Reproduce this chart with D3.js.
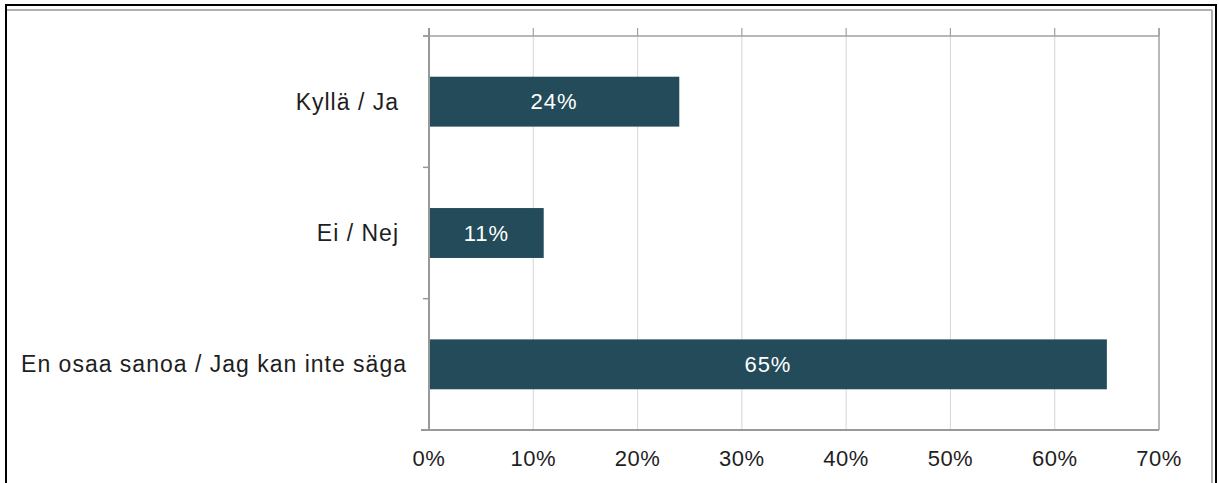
<!DOCTYPE html>
<html><head><meta charset="utf-8">
<script src="https://cdn.jsdelivr.net/npm/d3@7"></script>
<style>body{margin:0;background:#fff}svg{display:block}</style>
</head><body>
<script>
const categories = ["Kyllä / Ja", "Ei / Nej", "En osaa sanoa / Jag kan inte säga"];
const values = [0.24, 0.11, 0.65];
const tickValues = [0, 0.1, 0.2, 0.3, 0.4, 0.5, 0.6, 0.7];
const tickLabels = ["0%", "10%", "20%", "30%", "40%", "50%", "60%", "70%"];
const barLabels = ["24%", "11%", "65%"];

(function () {
const W = 1219, H = 483;
const svg = d3.select("body").append("svg").attr("width", W).attr("height", H);
const font = "Liberation Sans, Arial, sans-serif";

// frame
svg.append("rect").attr("x", 6).attr("y", 5).attr("width", 1210).attr("height", 500)
  .attr("fill", "none").attr("stroke", "#000").attr("stroke-width", 2);
svg.append("line").attr("x1", 7).attr("x2", 1212).attr("y1", 10).attr("y2", 10)
  .attr("stroke", "#b0b0b0").attr("stroke-width", 2);
svg.append("line").attr("x1", 1212).attr("x2", 1212).attr("y1", 10).attr("y2", 490)
  .attr("stroke", "#b0b0b0").attr("stroke-width", 2);

const pLeft = 429, pRight = 1159, pTop = 36, pBottom = 430;
const x = d3.scaleLinear().domain([0, 0.7]).range([pLeft, pRight]);
const y = d3.scaleBand().domain(categories).range([pTop, pBottom]).paddingInner(0.62).paddingOuter(0.31);

// gridlines
svg.append("g").selectAll("line").data(tickValues.slice(1, -1)).join("line")
  .attr("x1", d => x(d)).attr("x2", d => x(d)).attr("y1", pTop).attr("y2", pBottom)
  .attr("stroke", "#dcdcdc").attr("stroke-width", 1.2);

// top ticks
svg.append("g").selectAll("line").data(tickValues).join("line")
  .attr("x1", d => x(d)).attr("x2", d => x(d)).attr("y1", pTop - 8).attr("y2", pTop)
  .attr("stroke", "#a0a0a0").attr("stroke-width", 1.2);

// bars
svg.append("g").selectAll("rect").data(values).join("rect")
  .attr("x", x(0)).attr("y", (d, i) => y(categories[i]))
  .attr("width", d => x(d) - x(0)).attr("height", y.bandwidth())
  .attr("fill", "#234b59");

svg.append("g").selectAll("text").data(values).join("text")
  .attr("x", d => (x(0) + x(d)) / 2).attr("y", (d, i) => y(categories[i]) + y.bandwidth() / 2)
  .attr("dy", "0.35em").attr("text-anchor", "middle")
  .attr("fill", "#fff").attr("font-family", font).attr("font-size", 22).attr("letter-spacing", 1)
  .text((d, i) => barLabels[i]);

// plot box lines
const axisColor = "#999";
svg.append("line").attr("x1", pLeft - 6).attr("x2", pRight).attr("y1", pTop).attr("y2", pTop).attr("stroke", "#a0a0a0").attr("stroke-width", 1.5);
svg.append("line").attr("x1", pLeft - 8).attr("x2", pRight).attr("y1", pBottom).attr("y2", pBottom).attr("stroke", axisColor).attr("stroke-width", 2);
svg.append("line").attr("x1", pRight).attr("x2", pRight).attr("y1", pTop - 8).attr("y2", pBottom).attr("stroke", "#a0a0a0").attr("stroke-width", 1.5);
svg.append("line").attr("x1", pLeft).attr("x2", pLeft).attr("y1", pTop - 8).attr("y2", pBottom).attr("stroke", axisColor).attr("stroke-width", 2);

// category boundary ticks on left axis
const step = y.step();
svg.append("g").selectAll("line").data(d3.range(categories.length + 1)).join("line")
  .attr("x1", pLeft - 6).attr("x2", pLeft).attr("y1", d => pTop + d * step).attr("y2", d => pTop + d * step)
  .attr("stroke", axisColor).attr("stroke-width", 1.5);

// x tick labels
svg.append("g").selectAll("text").data(tickValues).join("text")
  .attr("x", d => x(d)).attr("y", 458).attr("dy", "0.35em").attr("text-anchor", "middle")
  .attr("fill", "#1e1e1e").attr("font-family", font).attr("font-size", 22).attr("letter-spacing", 0.5)
  .text((d, i) => tickLabels[i]);

// category labels
const labelX = [399, 399, 407];
svg.append("g").selectAll("text").data(categories).join("text")
  .attr("x", (d, i) => labelX[i]).attr("y", d => y(d) + y.bandwidth() / 2)
  .attr("dy", "0.35em").attr("text-anchor", "end")
  .attr("fill", "#1e1e1e").attr("font-family", font).attr("font-size", 23).attr("letter-spacing", 1)
  .text(d => d);
})();
</script>
</body></html>
